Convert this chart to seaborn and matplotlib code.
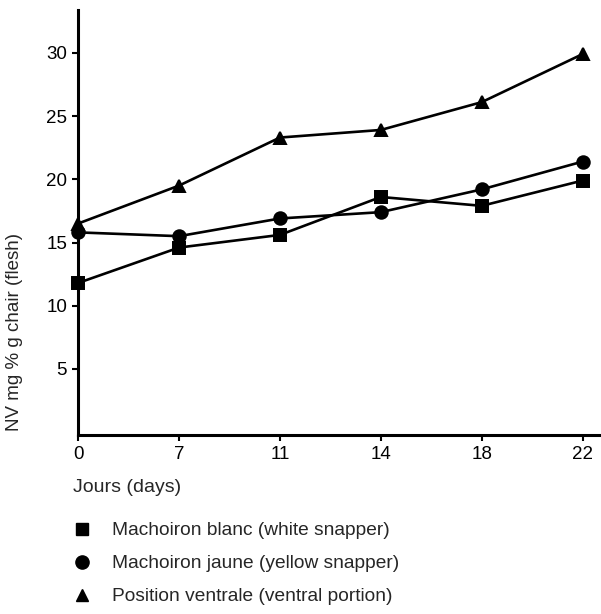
import matplotlib
matplotlib.use("Agg")
import matplotlib.pyplot as plt
from matplotlib.lines import Line2D
import numpy as np
import pandas as pd
import seaborn as sns

days = ["0", "7", "11", "14", "18", "22"]
white_snapper = [11.8, 14.6, 15.6, 18.6, 17.9, 19.9]
yellow_snapper = [15.8, 15.5, 16.9, 17.4, 19.2, 21.4]
ventral_portion = [16.5, 19.5, 23.3, 23.9, 26.1, 29.9]
series_labels = ["Machoiron blanc (white snapper)",
                 "Machoiron jaune (yellow snapper)",
                 "Position ventrale (ventral portion)"]
series_markers = ["s", "o", "^"]
y_ticks = [5, 10, 15, 20, 25, 30]

df = pd.DataFrame({
    "day": days * 3,
    "nv": white_snapper + yellow_snapper + ventral_portion,
    "series": np.repeat(series_labels, len(days)),
})

sns.set_style("white")
plt.rcParams["font.family"] = ["Liberation Sans", "DejaVu Sans"]

fig = plt.figure(figsize=(6.01, 6.14), dpi=100)
ax = fig.add_axes([0.13, 0.292, 0.868, 0.692])

sns.pointplot(data=df, x="day", y="nv", hue="series", order=days,
              hue_order=series_labels, palette=["black"] * 3,
              markers=series_markers, linestyles="-", markersize=9,
              linewidth=1.9, errorbar=None, legend=False, ax=ax)
# markers at day 0 sit on the axis, don't cut them
for art in ax.lines + ax.collections:
    art.set_clip_on(False)

ax.set_xlim(0, 5.17)
ax.set_ylim(-0.2, 33.4)
ax.set_yticks(y_ticks)
ax.set_xlabel("")
ax.set_ylabel("")
for s in ["top", "right"]:
    ax.spines[s].set_visible(False)
for s in ["left", "bottom"]:
    ax.spines[s].set_linewidth(2.2)
    ax.spines[s].set_color("black")
ax.tick_params(bottom=True, left=True, direction="out", length=4, width=1.5,
               labelsize=13.5, colors="black", pad=4)

fig.text(73 / 601, 1 - 488 / 614, "Jours (days)", fontsize=14,
         ha="left", va="center")
fig.text(15 / 601, 1 - 332 / 614, "NV mg % g chair (flesh)", fontsize=13.5,
         rotation=90, ha="center", va="center")

handles = [Line2D([], [], marker=m, color="black", linestyle="none",
                  markersize=ms)
           for m, ms in zip(series_markers, [8, 9.5, 8.5])]
fig.legend(handles, series_labels, loc="upper left",
           bbox_to_anchor=(70 / 601, 1 - 522 / 614), frameon=False,
           fontsize=13.8, handlelength=1.2, handletextpad=1.0,
           labelspacing=0.81, borderpad=0, borderaxespad=0)

fig.savefig("out.png", dpi=100)
